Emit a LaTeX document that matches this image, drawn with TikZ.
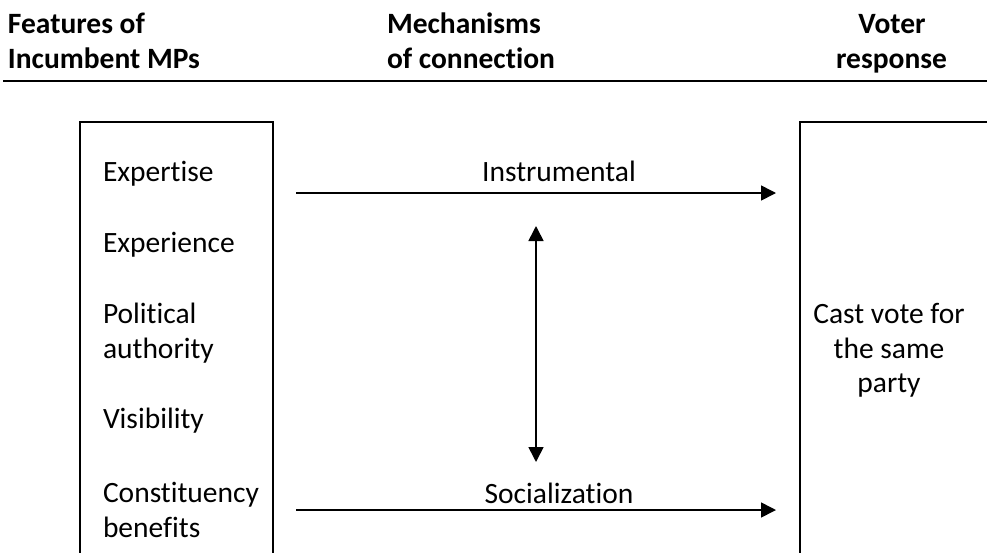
\documentclass[tikz,border=0pt]{standalone}
\usepackage{fontspec}
\setmainfont{Carlito}[Ligatures={NoCommon}]
\usetikzlibrary{arrows.meta}
\begin{document}
\begin{tikzpicture}[x=1pt,y=1pt,
  every node/.style={inner sep=0pt,outer sep=0pt,font=\fontsize{29.5}{35}\selectfont},
  head/.style={font=\fontsize{29.5}{35}\selectfont\bfseries},
  item/.style={anchor=base west},
  box/.style={draw,line width=1.3pt},
  conn/.style={line width=1.6pt,-{Triangle[length=15pt,width=15pt]}},
  bconn/.style={line width=1.6pt,{Triangle[length=15pt,width=15pt]}-{Triangle[length=15pt,width=15pt]}}]
\useasboundingbox (0,0) rectangle (987,-552);
\clip (0,0) rectangle (987,-552);
% header
\node[head,anchor=base west] (h1a) at (8,-33) {Features of};
\node[head,anchor=base west] (h1b) at (8,-68) {Incumbent MPs};
\node[head,anchor=base west] (h2a) at (387,-33) {Mechanisms};
\node[head,anchor=base west] (h2b) at (387,-68) {of connection};
\node[head,anchor=base] (h3a) at (892,-33) {Voter};
\node[head,anchor=base east] (h3b) at (947,-68) {response};
\draw[line width=2pt] (3,-81) -- (987,-81);
% boxes
\draw[box] (80,-600) |- (273,-122) -- (273,-600);
\draw[box] (800,-600) |- (1000,-122);
% left items
\node[item] (e1) at (103,-181) {Expertise};
\node[item] (e2) at (103,-252) {Experience};
\node[item] (e3) at (103,-323) {Political};
\node[item] (e3b) at (103,-358) {authority};
\node[item] (e4) at (103,-428) {Visibility};
\node[item] (e5) at (103,-502) {Constituency};
\node[item] (e5b) at (103,-537) {benefits};
% right text
\node[anchor=base] (r1) at (889,-323) {Cast vote for};
\node[anchor=base] (r2) at (889,-358) {the same};
\node[anchor=base] (r3) at (889,-392) {party};
% arrows
\coordinate (i1) at (296,-193);
\coordinate (i2) at (776,-193);
\coordinate (s1) at (296,-510);
\coordinate (s2) at (776,-510);
\coordinate (v1) at (536,-226);
\coordinate (v2) at (536,-462);
\draw[conn] (i1) -- (i2);
\draw[conn] (s1) -- (s2);
\draw[bconn] (v1) -- (v2);
\node[anchor=base] (li) at (559,-181) {Instrumental};
\node[anchor=base] (ls) at (559,-503) {Socialization};
\end{tikzpicture}
\end{document}
